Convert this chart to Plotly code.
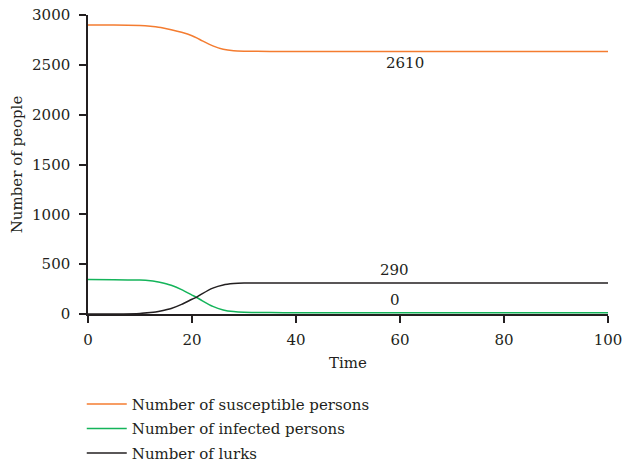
import plotly.graph_objects as go

time = [0, 5, 10, 12, 13, 14, 16, 18, 20, 21, 22, 24, 26, 28, 30, 35, 40, 60, 80, 100]
susceptible = [2900, 2899, 2895, 2888, 2882, 2874, 2852, 2826, 2792, 2768, 2740, 2690, 2656, 2641, 2637, 2635, 2635, 2635, 2635, 2635]
infected = [345, 344, 340, 333, 326, 316, 288, 244, 190, 163, 132, 76, 41, 24, 17, 14, 13, 12, 12, 12]
lurks = [0, 1, 6, 15, 21, 30, 55, 96, 148, 172, 205, 260, 292, 305, 310, 312, 312, 312, 312, 312]

names = ["Number of susceptible persons", "Number of infected persons", "Number of lurks"]
colors = ["#f47c30", "#14b45a", "#231f20"]
series = [susceptible, infected, lurks]

ann_text = ["2610", "290", "0"]
ann_x = [61, 59, 59]
ann_y = [2520, 441, 140]

FONT = "DejaVu Serif"
TXT = "#231f20"

fig = go.Figure()
for i, (n, c, s) in enumerate(zip(names, colors, series)):
    fig.add_trace(go.Scatter(x=time, y=s, mode="lines", name=n,
                             line=dict(color=c, width=1.5, shape="spline", smoothing=0.6),
                             legendgroup=str(i)))

for t, x, y in zip(ann_text, ann_x, ann_y):
    fig.add_annotation(x=x, y=y, xref="x", yref="y", text=t, showarrow=False,
                       font=dict(family=FONT, size=15, color=TXT))

axis_common = dict(showline=True, linecolor="#231f20", linewidth=1.5, ticks="outside",
                   ticklen=7, tickwidth=1.5, tickcolor="#231f20", showgrid=False, zeroline=False,
                   ticklabeloverflow="allow",
                   tickfont=dict(family=FONT, size=15, color=TXT))

fig.update_layout(
    width=622, height=464,
    margin=dict(l=88, r=14, t=15, b=150, autoexpand=False),
    paper_bgcolor="white", plot_bgcolor="white",
    xaxis=dict(range=[0, 100], tickvals=[0, 20, 40, 60, 80, 100],
               title=dict(text="Time", font=dict(family=FONT, size=15, color=TXT), standoff=10),
               ticklabelstandoff=4,
               **axis_common),
    yaxis=dict(range=[0, 3000], tickvals=[0, 500, 1000, 1500, 2000, 2500, 3000],
               title=dict(text="Number of people", font=dict(family=FONT, size=15, color=TXT), standoff=6),
               ticklabelstandoff=6,
               **axis_common),
    legend=dict(x=-0.012, y=-0.247, xanchor="left", yanchor="top", itemwidth=40,
                font=dict(family=FONT, size=15, color=TXT), tracegroupgap=2,
                bgcolor="rgba(0,0,0,0)"),
    showlegend=True,
)

fig.write_html("out.html")
